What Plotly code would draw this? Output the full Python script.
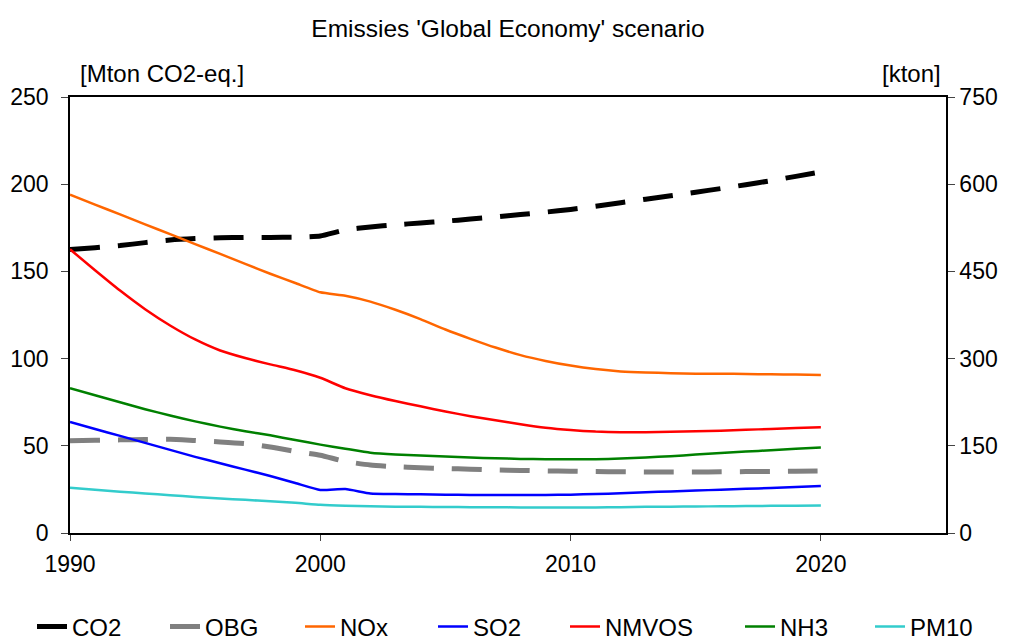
import plotly.graph_objects as go

# ---- data ----
years = list(range(1990, 2021))

# left axis [Mton CO2-eq.]
co2 = [162.6, 163.6, 164.8, 166.5, 168.0, 168.8, 169.3, 169.5, 169.5, 169.6, 170.3,
       173.8, 175.5, 176.7, 177.8, 178.8, 180.0, 181.2, 182.6, 184.0, 185.5,
       187.4, 189.4, 191.4, 193.4, 195.4, 197.5, 199.7, 202.0, 204.5, 207.0]
obg = [52.9, 53.2, 53.4, 53.6, 53.8, 53.0, 52.2, 51.2, 49.3, 46.8, 44.6,
       41.0, 39.0, 38.0, 37.4, 37.0, 36.6, 36.2, 35.9, 35.6, 35.4,
       35.2, 35.1, 35.0, 35.0, 35.0, 35.1, 35.2, 35.3, 35.4, 35.5]

# right axis [kton]
nox = [582, 565, 548, 531, 514, 497, 480, 463, 446, 430, 414,
       408, 398, 384, 368, 350, 334, 319, 306, 296, 288,
       282, 278, 276, 275, 274, 274, 273.5, 273, 272.5, 272]
so2 = [191, 179, 167, 155, 143, 131, 120, 109, 98, 86, 74,
       75.5, 68, 67, 66.5, 65.8, 65.4, 65.2, 65.2, 65.5, 66,
       67, 68.5, 70, 71.5, 73, 74.5, 76, 77.5, 79, 81]
nmvos = [488, 452, 417, 385, 357, 333, 314, 301, 290, 280, 267,
         249, 237, 227, 218, 209, 201, 194, 187, 181, 177,
         174.5, 173.5, 173.5, 174, 175, 176, 177.5, 179, 180.5, 182]
nh3 = [249, 237, 225, 213, 202, 192, 183, 175, 168, 160, 152,
       145, 138, 135, 133.5, 131.5, 130, 128.5, 127.5, 127, 126.7,
       127, 128, 130, 132, 135, 137.5, 140, 142.5, 145, 147]
pm10 = [78, 74.5, 71, 68, 65, 62, 59.5, 57, 54.5, 52, 48.5,
        46.8, 45.8, 45.3, 45, 44.8, 44.5, 44.2, 44, 44, 44,
        44, 44.5, 45, 45.3, 45.6, 46, 46.3, 46.7, 47, 47.5]

x_ticks = [1990, 2000, 2010, 2020]
left_ticks = [0, 50, 100, 150, 200, 250]
right_ticks = [0, 150, 300, 450, 600, 750]

FONT = "Liberation Sans, Arial, sans-serif"

series = [
    ("CO2", co2, "y", "#000000", 5, "30px,18px"),
    ("OBG", obg, "y", "#808080", 5, "30px,18px"),
    ("NOx", nox, "y2", "#FF6600", 2.5, "solid"),
    ("SO2", so2, "y2", "#0000FF", 2.5, "solid"),
    ("NMVOS", nmvos, "y2", "#FF0000", 2.5, "solid"),
    ("NH3", nh3, "y2", "#008000", 2.5, "solid"),
    ("PM10", pm10, "y2", "#33CCCC", 2.5, "solid"),
]

# page has an 8px body margin: figure is drawn from (8, 8)
W, H = 1001, 632
OFF = 8
legend_x = [32, 165, 300, 433, 565, 740, 870]  # page px where each entry begins

fig = go.Figure()
for i, (name, vals, ax, col, w, dash) in enumerate(series):
    lg = "legend" if i == 0 else f"legend{i+1}"
    fig.add_trace(go.Scatter(
        x=years, y=vals, name=name, yaxis=ax, mode="lines",
        line=dict(color=col, width=w, dash=dash, shape="spline", smoothing=0.5),
        legend=lg,
    ))

layout_legends = {}
for i, lx in enumerate(legend_x):
    key = "legend" if i == 0 else f"legend{i+1}"
    layout_legends[key] = dict(
        orientation="h", xref="container", yref="container",
        x=(lx - OFF) / W, xanchor="left", y=1 - (627 - OFF) / H, yanchor="middle",
        font=dict(family=FONT, size=24, color="black"),
        bgcolor="rgba(0,0,0,0)", borderwidth=0,
    )

fig.update_layout(
    width=W, height=H,
    paper_bgcolor="white", plot_bgcolor="white",
    margin=dict(l=70 - OFF, r=W - (946 - OFF), t=97 - OFF, b=H - (533 - OFF), autoexpand=False),
    font=dict(family=FONT, size=23, color="black"),
    title=dict(text="Emissies 'Global Economy' scenario",
               x=(508 - OFF) / W, xanchor="center", y=1 - (28 - OFF) / H, yanchor="middle",
               yref="container", font=dict(family=FONT, size=24.5, color="black")),
    xaxis=dict(range=[1990, 2025], tickvals=x_ticks, ticktext=[str(t) for t in x_ticks],
               showgrid=False, zeroline=False, showline=True, linecolor="black",
               linewidth=1.5, mirror=True, ticks="outside", ticklen=6, tickcolor="#444",
               tickfont=dict(family=FONT, size=23, color="black"), ticklabelstandoff=4),
    yaxis=dict(range=[0, 250], tickvals=left_ticks, showgrid=False, zeroline=False,
               showline=True, linecolor="black", linewidth=1.5, ticks="outside",
               ticklen=7, tickcolor="#444",
               tickfont=dict(family=FONT, size=23, color="black"), ticklabelstandoff=8),
    yaxis2=dict(range=[0, 750], tickvals=right_ticks, overlaying="y", side="right",
                showgrid=False, zeroline=False, showline=True, linecolor="black",
                linewidth=1.5, ticks="outside", ticklen=7, tickcolor="#444",
                tickfont=dict(family=FONT, size=23, color="black"), ticklabelstandoff=0),
    showlegend=True,
    annotations=[
        dict(text="[Mton CO2-eq.]", xref="paper", yref="paper", x=0.009, y=1.055,
             xanchor="left", yanchor="middle", showarrow=False,
             font=dict(family=FONT, size=24, color="black")),
        dict(text="[kton]", xref="paper", yref="paper", x=0.9966, y=1.055,
             xanchor="right", yanchor="middle", showarrow=False,
             font=dict(family=FONT, size=24, color="black")),
    ],
    **layout_legends,
)

fig.write_html("out.html")
